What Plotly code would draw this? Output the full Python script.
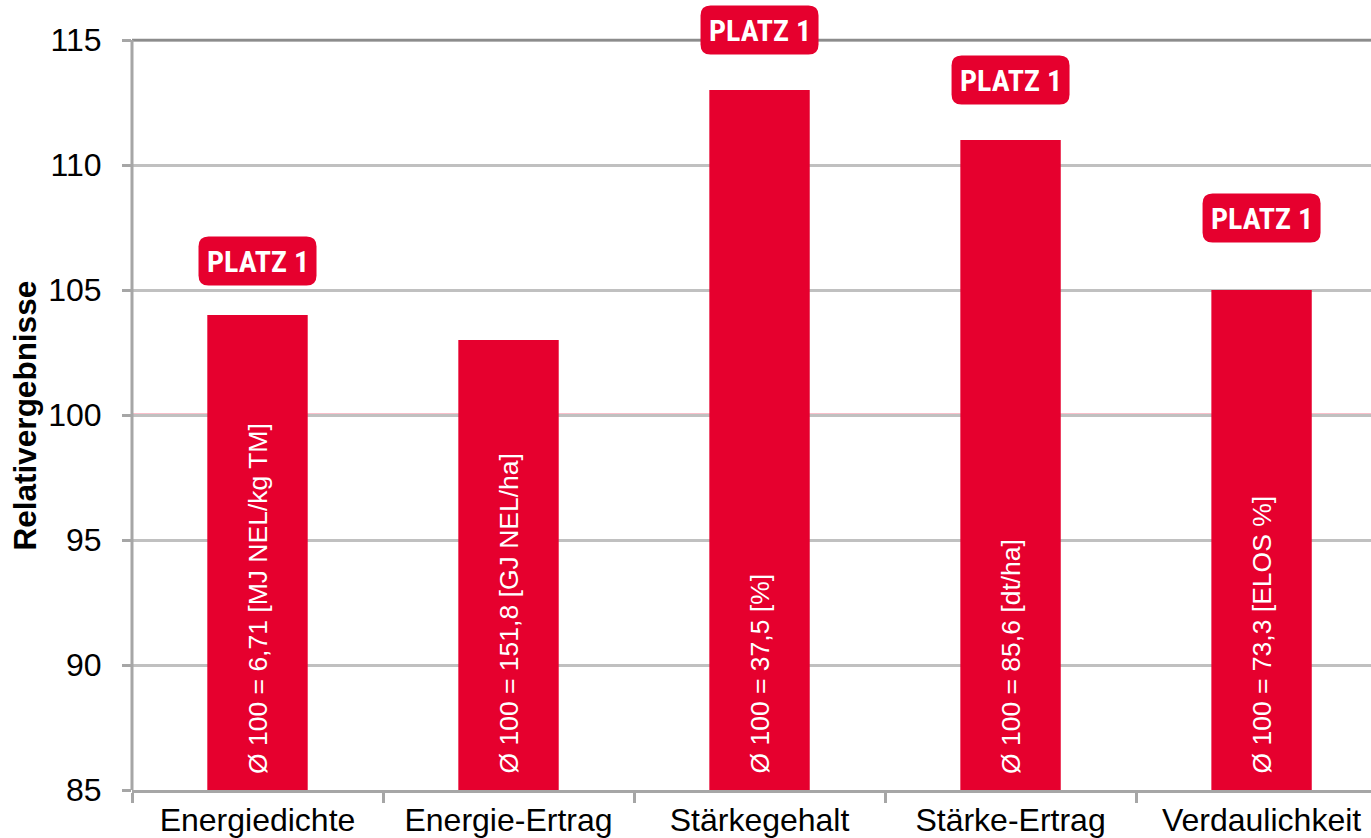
import plotly.graph_objects as go

# --- data ---
categories = ["Energiedichte", "Energie-Ertrag", "Stärkegehalt", "Stärke-Ertrag", "Verdaulichkeit"]
values = [104, 103, 113, 111, 105]
bar_notes = [
    "Ø 100 = 6,71 [MJ NEL/kg TM]",
    "Ø 100 = 151,8 [GJ NEL/ha]",
    "Ø 100 = 37,5 [%]",
    "Ø 100 = 85,6 [dt/ha]",
    "Ø 100 = 73,3 [ELOS %]",
]
badge = ["PLATZ 1", "", "PLATZ 1", "PLATZ 1", "PLATZ 1"]
y_ticks = [85, 90, 95, 100, 105, 110, 115]
reference_level = 100

# --- style ---
RED = "#E6002E"
AXIS_COL = "#A6A6A6"
GRID_COL = "#C0C0C0"
TOP_COL = "#8C8C8C"
FONT = "Liberation Sans, Arial, sans-serif"
BADGE_FONT = "Liberation Sans Narrow, Roboto Condensed, Liberation Sans, sans-serif"
badge_lift = [54, 0, 60, 60, 72]  # px above bar top
BADGE_W, BADGE_H, BADGE_R = 118, 49, 10


def rounded_rect(cy, w=BADGE_W, h=BADGE_H, r=BADGE_R):
    x0, x1 = -w / 2, w / 2
    y0, y1 = cy - h / 2, cy + h / 2
    return (
        f"M {x0 + r},{y0} L {x1 - r},{y0} Q {x1},{y0} {x1},{y0 + r} "
        f"L {x1},{y1 - r} Q {x1},{y1} {x1 - r},{y1} "
        f"L {x0 + r},{y1} Q {x0},{y1} {x0},{y1 - r} "
        f"L {x0},{y0 + r} Q {x0},{y0} {x0 + r},{y0} Z"
    )


fig = go.Figure(
    go.Bar(
        x=categories,
        y=values,
        marker=dict(color=RED, line=dict(width=0)),
        hovertemplate="%{x}: %{y}<extra></extra>",
    )
)

# reference line at 100 (under the bars)
fig.add_shape(
    type="line", xref="paper", x0=0, x1=1, yref="y",
    y0=reference_level, y1=reference_level,
    line=dict(color=RED, width=2.5), layer="below",
)
# darker top line at 115
fig.add_shape(
    type="line", xref="paper", x0=0, x1=1, yref="y",
    y0=y_ticks[-1], y1=y_ticks[-1],
    line=dict(color=TOP_COL, width=2.5), layer="above",
)
# y axis line stops at the top tick
fig.add_shape(
    type="line", xref="paper", x0=0, x1=0, yref="y",
    y0=y_ticks[0], y1=y_ticks[-1],
    line=dict(color=AXIS_COL, width=3), layer="above",
)

for cat, val, note, b, lift in zip(categories, values, bar_notes, badge, badge_lift):
    fig.add_annotation(
        x=cat, y=y_ticks[0], text=note, textangle=-90,
        xanchor="center", yanchor="bottom", yshift=14, showarrow=False,
        font=dict(family=FONT, size=26.5, color="white"),
    )
    if b:
        fig.add_shape(
            type="path", xref="x", yref="y",
            xsizemode="pixel", ysizemode="pixel",
            xanchor=cat, yanchor=val,
            path=rounded_rect(lift),
            fillcolor=RED, line=dict(width=0), layer="above",
        )
        fig.add_annotation(
            x=cat, y=val, text=f"<b>{b}</b>", showarrow=False,
            yshift=lift, xanchor="center", yanchor="middle",
            font=dict(family=BADGE_FONT, size=30, color="white"),
        )

# y axis title, centred on the 85-115 span
fig.add_annotation(
    xref="paper", x=-0.086, yref="y", y=(y_ticks[0] + y_ticks[-1]) / 2,
    text="<b>Relativergebnisse</b>", textangle=-90, showarrow=False,
    xanchor="center", yanchor="middle",
    font=dict(family=FONT, size=31.5, color="black"),
)

fig.update_layout(
    width=1371, height=838,
    margin=dict(l=132, r=0, t=0, b=48),
    paper_bgcolor="white", plot_bgcolor="white",
    font=dict(family=FONT, size=32, color="black"),
    bargap=0.6,
    showlegend=False,
)
fig.update_xaxes(
    type="category", range=[-0.5, 4.436],
    showline=True, linecolor=AXIS_COL, linewidth=3,
    ticks="outside", tickson="boundaries", ticklen=10, tickwidth=3, tickcolor=AXIS_COL,
    showgrid=False, tickfont=dict(size=32),
)
fig.update_yaxes(
    range=[85, 116.6], tickvals=y_ticks,
    showline=False, showgrid=True, gridcolor=GRID_COL, gridwidth=2.5,
    zeroline=False,
    ticks="outside", ticklen=9, tickwidth=2.5, tickcolor=AXIS_COL,
    ticklabelstandoff=14, tickfont=dict(size=32),
)

fig.write_html(
    "out.html",
    config={"displayModeBar": False},
    post_script="document.body.style.margin='0';",
)
